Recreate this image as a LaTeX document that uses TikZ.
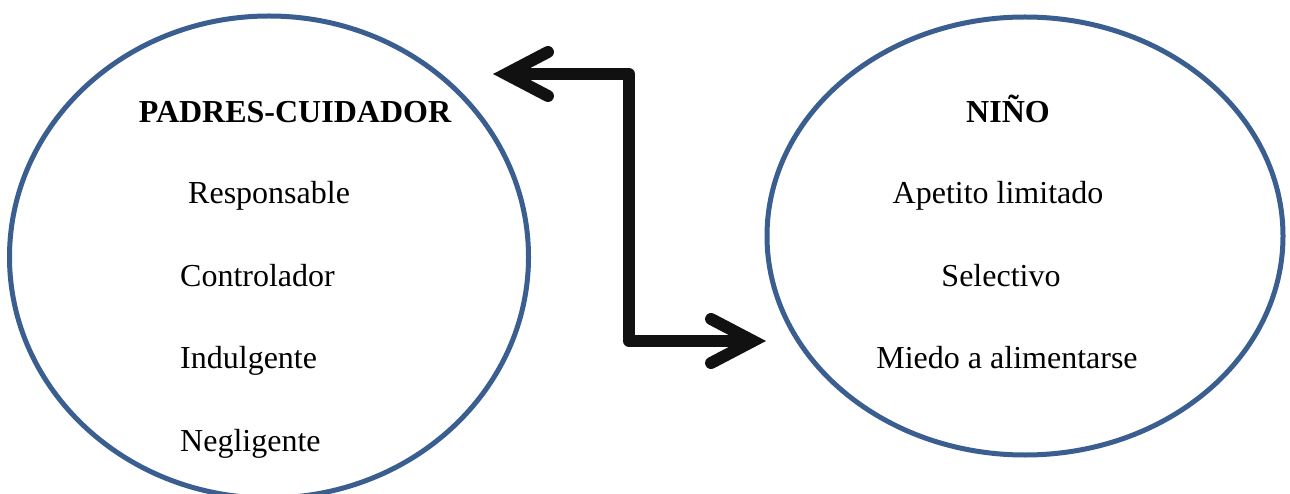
\documentclass[tikz,border=0pt]{standalone}
\usepackage{fontspec}
\setmainfont{Liberation Serif}
\usetikzlibrary{shapes.geometric,arrows.meta}
\definecolor{ringblue}{RGB}{58,94,143}
\definecolor{arrowblack}{RGB}{17,17,17}
\tikzset{
  ring/.style={ellipse, draw=ringblue, line width=5pt, inner sep=0pt},
  lbl/.style={font=\fontsize{32pt}{36pt}\selectfont, inner sep=0pt, text=black},
  ttl/.style={lbl, font=\fontsize{32pt}{36pt}\selectfont\bfseries},
  barb/.tip={Straight Barb[length=42pt, width=44pt, line cap=round, line join=miter]},
  link/.style={draw=arrowblack, line width=12pt, line join=round, barb-barb}
}
\begin{document}
\begin{tikzpicture}[x=1pt,y=-1pt]
\useasboundingbox[fill=white] (0,0) rectangle (1290,494);
\node[ring, minimum width=519pt, minimum height=482pt] (padres) at (269,257) {};
\node[ring, minimum width=516pt, minimum height=438pt] (nino) at (1025,236) {};

\node[ttl, anchor=base] (tp) at (295,123) {PADRES-CUIDADOR};
\node[lbl, anchor=base west] (p1) at (188,204) {Responsable};
\node[lbl, anchor=base west] (p2) at (180,287) {Controlador};
\node[lbl, anchor=base west] (p3) at (180,368) {Indulgente};
\node[lbl, anchor=base west] (p4) at (180,451) {Negligente};

\node[ttl, anchor=base] (tn) at (1008,123) {NIÑO};
\node[lbl, anchor=base] (n1) at (998,204) {Apetito limitado};
\node[lbl, anchor=base] (n2) at (1001,287) {Selectivo};
\node[lbl, anchor=base] (n3) at (1007,368) {Miedo a alimentarse};

\coordinate (L) at (493,74);
\coordinate (R) at (766,341);
\coordinate (C) at (629,200);
\draw[link] (L) -- (L -| C) -- (C |- R) -- (R);
\end{tikzpicture}
\end{document}
